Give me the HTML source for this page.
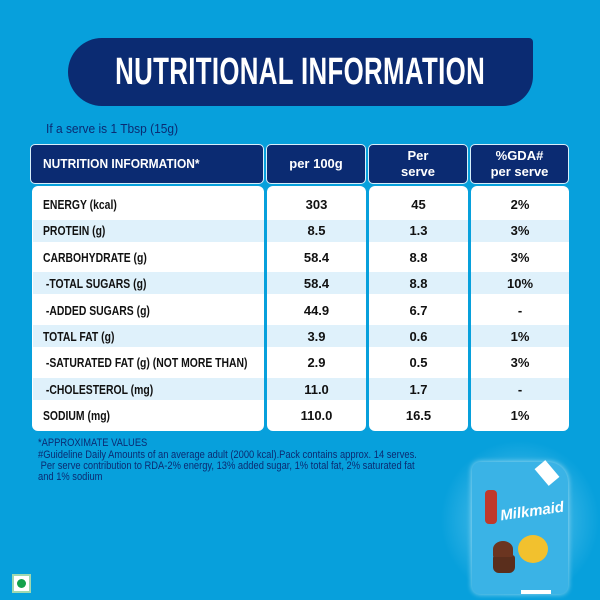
<!DOCTYPE html>
<html><head><meta charset="utf-8"><style>
*{margin:0;padding:0;box-sizing:border-box}
body{width:600px;height:600px;background:#07a0dc;position:relative;overflow:hidden;font-family:"Liberation Sans",sans-serif}
.a{position:absolute}
.banner{left:68px;top:38px;width:465px;height:68px;background:#0b2b72;border-radius:34px 4px 30px 34px}
.title{left:0px;top:38px;width:600px;height:68px;color:#fff;font-weight:bold;font-size:38px;line-height:68px;text-align:center;white-space:nowrap;letter-spacing:0.5px}
.title span{display:inline-block;transform:scaleX(0.68)}
.hd{background:#0b2b72;border:1.5px solid #d8eefa;border-radius:5px;color:#fff;font-weight:bold;font-size:13px;display:flex;align-items:center;justify-content:center;text-align:center;line-height:16px}
.bd{background:#fff;border-radius:6px}
.st{background:#dff1fb;height:22px}
.t{font-weight:bold;font-size:13px;line-height:16px;color:#111;white-space:nowrap;transform-origin:left center;transform:scaleX(0.8)}
.c{font-weight:bold;font-size:13px;line-height:16px;color:#111;text-align:center}
.n{color:#0b2b72;font-size:11px;white-space:nowrap;transform-origin:left center;transform:scaleX(0.85)}
</style></head><body>
<div class="a banner"></div>
<div class="a title" style="left:0"><span>NUTRITIONAL INFORMATION</span></div>
<div class="a" style="left:46px;top:121px;color:#0b2b72;font-size:13px;transform:scaleX(0.92);transform-origin:left;white-space:nowrap">If a serve is 1 Tbsp (15g)</div>

<div class="a hd" style="left:30px;top:144px;width:234px;height:40px;justify-content:flex-start;padding-left:12px"><span style="transform:scaleX(0.92);transform-origin:left;display:inline-block;white-space:nowrap">NUTRITION INFORMATION*</span></div>
<div class="a hd" style="left:266px;top:144px;width:100px;height:40px">per 100g</div>
<div class="a hd" style="left:368px;top:144px;width:100px;height:40px">Per<br>serve</div>
<div class="a hd" style="left:470px;top:144px;width:99px;height:40px">%GDA#<br>per serve</div>

<div class="a bd" style="left:32px;top:186px;width:232px;height:245px"></div>
<div class="a bd" style="left:267px;top:186px;width:99px;height:245px"></div>
<div class="a bd" style="left:369px;top:186px;width:99px;height:245px"></div>
<div class="a bd" style="left:471px;top:186px;width:98px;height:245px"></div>

<div class="a st" style="left:33px;top:220px;width:536px"></div>
<div class="a st" style="left:33px;top:272px;width:536px"></div>
<div class="a st" style="left:33px;top:325px;width:536px"></div>
<div class="a st" style="left:33px;top:378px;width:536px"></div>
<div class="a" style="left:264px;top:186px;width:3px;height:245px;background:#07a0dc"></div>
<div class="a" style="left:366px;top:186px;width:3px;height:245px;background:#07a0dc"></div>
<div class="a" style="left:468px;top:186px;width:3px;height:245px;background:#07a0dc"></div>

<div id="rows"></div>
<script>
var d=[["ENERGY (kcal)","303","45","2%"],["PROTEIN (g)","8.5","1.3","3%"],["CARBOHYDRATE (g)","58.4","8.8","3%"],[" -TOTAL SUGARS (g)","58.4","8.8","10%"],[" -ADDED SUGARS (g)","44.9","6.7","-"],["TOTAL FAT (g)","3.9","0.6","1%"],[" -SATURATED FAT (g) (NOT MORE THAN)","2.9","0.5","3%"],[" -CHOLESTEROL (mg)","11.0","1.7","-"],["SODIUM (mg)","110.0","16.5","1%"]];
var h="";
d.forEach(function(r,i){var y=197+i*26.4;
h+='<div class="a t" style="left:43px;top:'+y+'px">'+r[0].replace(/^ /,'&nbsp;')+'</div>';
h+='<div class="a c" style="left:267px;width:99px;top:'+y+'px">'+r[1]+'</div>';
h+='<div class="a c" style="left:369px;width:99px;top:'+y+'px">'+r[2]+'</div>';
h+='<div class="a c" style="left:471px;width:98px;top:'+y+'px">'+r[3]+'</div>';});
document.getElementById('rows').innerHTML=h;
</script>

<div class="a n" style="left:38px;top:437px">*APPROXIMATE VALUES</div>
<div class="a n" style="left:38px;top:449px">#Guideline Daily Amounts of an average adult (2000 kcal).Pack contains approx. 14 serves.</div>
<div class="a n" style="left:38px;top:460px">&nbsp;Per serve contribution to RDA-2% energy, 13% added sugar, 1% total fat, 2% saturated fat</div>
<div class="a n" style="left:38px;top:471px">and 1% sodium</div>

<div class="a" style="left:12px;top:574px;width:19px;height:19px;background:#fff;border:2px solid #9fd9b0"><div style="width:9px;height:9px;border-radius:50%;background:#12a14b;margin:3px"></div></div>

<div class="a" style="left:440px;top:440px;width:160px;height:160px;background:radial-gradient(circle,rgba(190,235,255,0.55),rgba(7,160,220,0) 70%)"></div>
<div class="a" style="left:472px;top:462px;width:96px;height:132px;background:#3ab3e6;border-radius:8px 20px 8px 8px;box-shadow:0 0 6px rgba(255,255,255,0.6)"></div>
<div class="a" style="left:540px;top:462px;width:14px;height:22px;background:#fff;transform:rotate(-40deg)"></div>
<div class="a" style="left:500px;top:503px;color:#fff;font-style:italic;font-weight:bold;font-size:15px;transform:rotate(-8deg)">Milkmaid</div>
<div class="a" style="left:485px;top:490px;width:12px;height:34px;background:#c0392b;border-radius:4px"></div>
<div class="a" style="left:493px;top:555px;width:22px;height:18px;background:#5a2e1c;border-radius:3px 3px 6px 6px"></div>
<div class="a" style="left:493px;top:541px;width:20px;height:16px;background:#6b3520;border-radius:50% 50% 10% 10%"></div>
<div class="a" style="left:518px;top:535px;width:30px;height:28px;background:#f2c12e;border-radius:50%"></div>
<div class="a" style="left:521px;top:590px;width:30px;height:4px;background:#fff"></div>
</body></html>
